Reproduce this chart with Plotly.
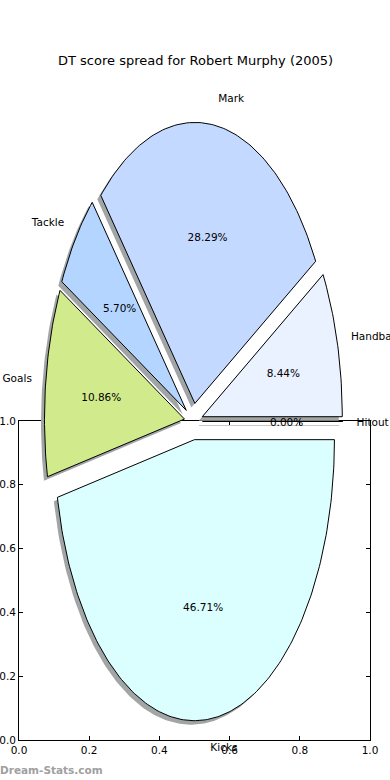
import numpy as np
import plotly.graph_objects as go

# ---- data ----
labels = ["Handball", "Mark", "Tackle", "Goals", "Kicks", "Hitout"]
values = [8.44, 28.29, 5.70, 10.86, 46.71, 0.00]
colors = ["#eaf1ff", "#c4d9ff", "#b3d5ff", "#d1eb8c", "#dbffff", "#ffffff"]
frame_ticks = [0.0, 0.2, 0.4, 0.6, 0.8, 1.0]
title = "DT score spread for Robert Murphy (2005)"

# ---- geometry / style ----
W, H = 390, 780
CX, CY = 193.5, 421.5      # pie centre in px
RX, RY = 140.0, 281.0      # ellipse radii in px
EXPLODE = 0.065
LABELDIST = 1.1
PCTDIST = 0.6
SDX, SDY = -3.5 / RX, -4.0 / RY
SHADOW = "#a2a5a5"
FONT = "DejaVu Sans"

vals = np.array(values, dtype=float)
frac = vals / vals.sum()
ends = np.cumsum(frac) * 2 * np.pi
starts = ends - frac * 2 * np.pi

fig = go.Figure()

# frame axes (drawn first, underneath)
fig.add_trace(go.Scatter(x=[None], y=[None], xaxis="x", yaxis="y",
                         showlegend=False, hoverinfo="skip"))

wedges = []
for lab, f, a0, a1, col in zip(labels, frac, starts, ends, colors):
    mid = (a0 + a1) / 2
    ox, oy = EXPLODE * np.cos(mid), EXPLODE * np.sin(mid)
    n = max(2, int(np.ceil((a1 - a0) / (np.pi / 180))) + 1)
    t = np.linspace(a0, a1, n)
    px = np.concatenate([[ox], ox + np.cos(t), [ox]])
    py = np.concatenate([[oy], oy + np.sin(t), [oy]])
    wedges.append((lab, f, mid, ox, oy, px, py, col))

# shadows
for lab, f, mid, ox, oy, px, py, col in wedges:
    if f > 0:
        fig.add_trace(go.Scatter(x=px + SDX, y=py + SDY, xaxis="x2", yaxis="y2",
                                 mode="lines", fill="toself", fillcolor=SHADOW,
                                 line=dict(width=0, color=SHADOW),
                                 showlegend=False, hoverinfo="skip"))
    else:
        fig.add_trace(go.Scatter(x=px + SDX, y=py + SDY, xaxis="x2", yaxis="y2",
                                 mode="lines", line=dict(width=1, color="#c8c8c8"),
                                 showlegend=False, hoverinfo="skip"))

# wedges
for lab, f, mid, ox, oy, px, py, col in wedges:
    if f > 0:
        fig.add_trace(go.Scatter(x=px, y=py, xaxis="x2", yaxis="y2",
                                 mode="lines", fill="toself", fillcolor=col,
                                 line=dict(width=1, color="black"),
                                 showlegend=False, hoverinfo="skip"))

# labels and percentages
TXT_DY = -1.5 / RY
for lab, f, mid, ox, oy, px, py, col in wedges:
    c, s = np.cos(mid), np.sin(mid)
    pos = "middle right" if c > 1e-9 else ("middle left" if c < -1e-9 else "middle center")
    fig.add_trace(go.Scatter(x=[ox + LABELDIST * c], y=[oy + LABELDIST * s + TXT_DY],
                             xaxis="x2", yaxis="y2", mode="text", text=[lab],
                             textposition=pos, cliponaxis=False,
                             textfont=dict(family=FONT, size=10.5, color="black"),
                             showlegend=False, hoverinfo="skip"))
    fig.add_trace(go.Scatter(x=[ox + PCTDIST * c], y=[oy + PCTDIST * s + TXT_DY],
                             xaxis="x2", yaxis="y2", mode="text",
                             text=["%.2f%%" % (f * 100)], textposition="middle center",
                             textfont=dict(family=FONT, size=10.5, color="black"),
                             showlegend=False, hoverinfo="skip"))

# zero-size wedge edge drawn on top
for lab, f, mid, ox, oy, px, py, col in wedges:
    if f == 0:
        fig.add_trace(go.Scatter(x=px, y=py, xaxis="x2", yaxis="y2", mode="lines",
                                 line=dict(width=1, color="black"),
                                 showlegend=False, hoverinfo="skip"))

x0, x1 = 19, 370
y0, y1 = 421, 740
axfont = dict(family=FONT, size=10.5, color="black")
fig.update_layout(
    template="none",
    width=W, height=H, margin=dict(l=0, r=0, t=0, b=0, pad=0, autoexpand=False),
    paper_bgcolor="white", plot_bgcolor="rgba(0,0,0,0)",
    xaxis=dict(domain=[x0 / W, x1 / W], range=[0, 1], tickvals=frame_ticks,
               ticktext=["%.1f" % v for v in frame_ticks], ticks="inside",
               ticklen=4, tickcolor="black", showline=True, linecolor="black",
               linewidth=1, mirror="allticks", showgrid=False, zeroline=False,
               tickfont=axfont, fixedrange=True, automargin=False),
    yaxis=dict(domain=[(H - y1) / H, (H - y0) / H], range=[0, 1], tickvals=frame_ticks,
               ticktext=["%.1f" % v for v in frame_ticks], ticks="inside",
               ticklen=4, tickcolor="black", showline=True, linecolor="black",
               linewidth=1, mirror="allticks", showgrid=False, zeroline=False,
               tickfont=axfont, fixedrange=True, automargin=False),
    xaxis2=dict(domain=[0, 1], range=[-CX / RX, (W - CX) / RX], visible=False,
                fixedrange=True, automargin=False),
    yaxis2=dict(domain=[0, 1], range=[-(H - CY) / RY, CY / RY], visible=False,
                fixedrange=True, automargin=False),
    annotations=[
        dict(text=title, x=0.5, y=1 - 61 / H, xref="paper", yref="paper",
             xanchor="center", yanchor="middle", showarrow=False,
             font=dict(family=FONT, size=13, color="black")),
        dict(text="<b>Dream-Stats.com</b>", x=-2 / W, y=1 - 770 / H, xref="paper",
             yref="paper", xanchor="left", yanchor="middle", showarrow=False,
             font=dict(family=FONT, size=10.5, color="#a0a0a0")),
    ],
)

fig.write_html(
    "out.html",
    config={"displayModeBar": False, "staticPlot": True},
    post_script="document.body.style.margin='0px';document.body.style.overflow='hidden';",
)
